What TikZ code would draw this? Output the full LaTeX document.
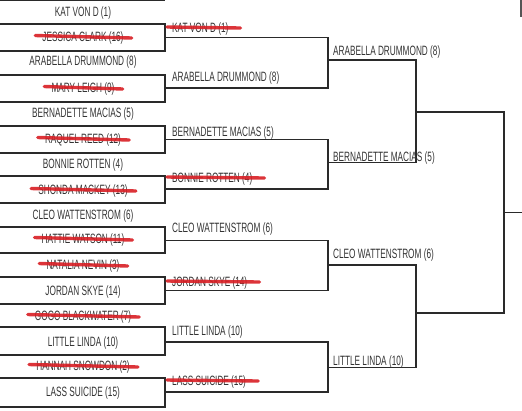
\documentclass[tikz,border=0pt]{standalone}
\usepackage{fontspec}
\setmainfont{Liberation Sans}[FakeStretch=0.61]
\definecolor{ink}{HTML}{2A2A2A}
\definecolor{txt}{HTML}{333333}
\definecolor{strike}{HTML}{D81E24}
\begin{document}
\begin{tikzpicture}[x=1pt,y=-1pt,
  br/.style={draw=ink,line width=1.4pt},
  nm/.style={font=\fontsize{13.5}{15}\selectfont, text=txt, inner sep=0pt},
  kill/.style={draw=strike,line width=3.4pt,line cap=round,opacity=0.9}]
\useasboundingbox (0,0) rectangle (522,410);
% ---------- round 1 brackets ----------
\draw[br] (0,0.7) -- (165,0.7);
\foreach \t/\b in {24/51,75/102,126/153,176/203,227/253,277/304,327/355,378/407}
  \draw[br] (0,\t) -- (165,\t) -- (165,\b) -- (0,\b);
% ---------- round 2 brackets ----------
\foreach \t/\b in {37.5/88,139.5/189,240.5/290.5,342/392}
  \draw[br] (165,\t) -- (328,\t) -- (328,\b) -- (165,\b);
% ---------- round 3 brackets ----------
\foreach \t/\b in {60/162.5,265/367.5}
  \draw[br] (328,\t) -- (416,\t) -- (416,\b) -- (328,\b);
% ---------- round 4 ----------
\draw[br] (416,112) -- (504,112) -- (504,313) -- (416,313);
\draw[br] (504,212.5) -- (522,212.5);
\draw[br,draw=ink!80] (521,0) -- (521,16.5);
% ---------- round 1 names ----------
\node[nm,anchor=base] (a1)  at (83,16.5)  {KAT VON D (1)};
\node[nm,anchor=base] (a2)  at (83,41.5)  {JESSICA CLARK (16)};
\node[nm,anchor=base] (a3)  at (83,65.7)  {ARABELLA DRUMMOND (8)};
\node[nm,anchor=base] (a4)  at (83,92.5)  {MARY LEIGH (9)};
\node[nm,anchor=base] (a5)  at (83,117.5) {BERNADETTE MACIAS (5)};
\node[nm,anchor=base] (a6)  at (83,143.5) {RAQUEL REED (12)};
\node[nm,anchor=base] (a7)  at (83,168.5) {BONNIE ROTTEN (4)};
\node[nm,anchor=base] (a8)  at (83,194.5) {SHONDA MACKEY (13)};
\node[nm,anchor=base] (a9)  at (83,219.5) {CLEO WATTENSTROM (6)};
\node[nm,anchor=base] (a10) at (83,243.5) {HATTIE WATSON (11)};
\node[nm,anchor=base] (a11) at (83,269.5) {NATALIA NEVIN (3)};
\node[nm,anchor=base] (a12) at (83,295.5) {JORDAN SKYE (14)};
\node[nm,anchor=base] (a13) at (83,320.5) {GOGO BLACKWATER (7)};
\node[nm,anchor=base] (a14) at (83,346.5) {LITTLE LINDA (10)};
\node[nm,anchor=base] (a15) at (83,370.5) {HANNAH SNOWDON (2)};
\node[nm,anchor=base] (a16) at (83,396.5) {LASS SUICIDE (15)};
% ---------- round 2 names ----------
\node[nm,anchor=base west] (b1) at (172,32)    {KAT VON D (1)};
\node[nm,anchor=base west] (b2) at (172,81.7)  {ARABELLA DRUMMOND (8)};
\node[nm,anchor=base west] (b3) at (172,136.7) {BERNADETTE MACIAS (5)};
\node[nm,anchor=base west] (b4) at (172,182)   {BONNIE ROTTEN (4)};
\node[nm,anchor=base west] (b5) at (172,232.7) {CLEO WATTENSTROM (6)};
\node[nm,anchor=base west] (b6) at (172,286)   {JORDAN SKYE (14)};
\node[nm,anchor=base west] (b7) at (172,335)   {LITTLE LINDA (10)};
\node[nm,anchor=base west] (b8) at (172,385)   {LASS SUICIDE (15)};
% ---------- round 3 names ----------
\node[nm,anchor=base west] (c1) at (333,55)    {ARABELLA DRUMMOND (8)};
\node[nm,anchor=base west] (c2) at (333,161.5) {BERNADETTE MACIAS (5)};
\node[nm,anchor=base west] (c3) at (333,258)   {CLEO WATTENSTROM (6)};
\node[nm,anchor=base west] (c4) at (333,365)   {LITTLE LINDA (10)};
% ---------- strike-throughs ----------
\foreach \n in {a2,a4,a6,a8,a10,a11,a13,a15}
  \draw[kill] ([xshift=-7pt,yshift=2.5pt]\n.west) -- ([xshift=8pt,yshift=0pt]\n.east);
\foreach \n in {b1,b4,b6,b8}
  \draw[kill] ([xshift=-5pt,yshift=1.5pt]\n.west) -- ([xshift=12pt,yshift=0.5pt]\n.east);
\end{tikzpicture}
\end{document}
